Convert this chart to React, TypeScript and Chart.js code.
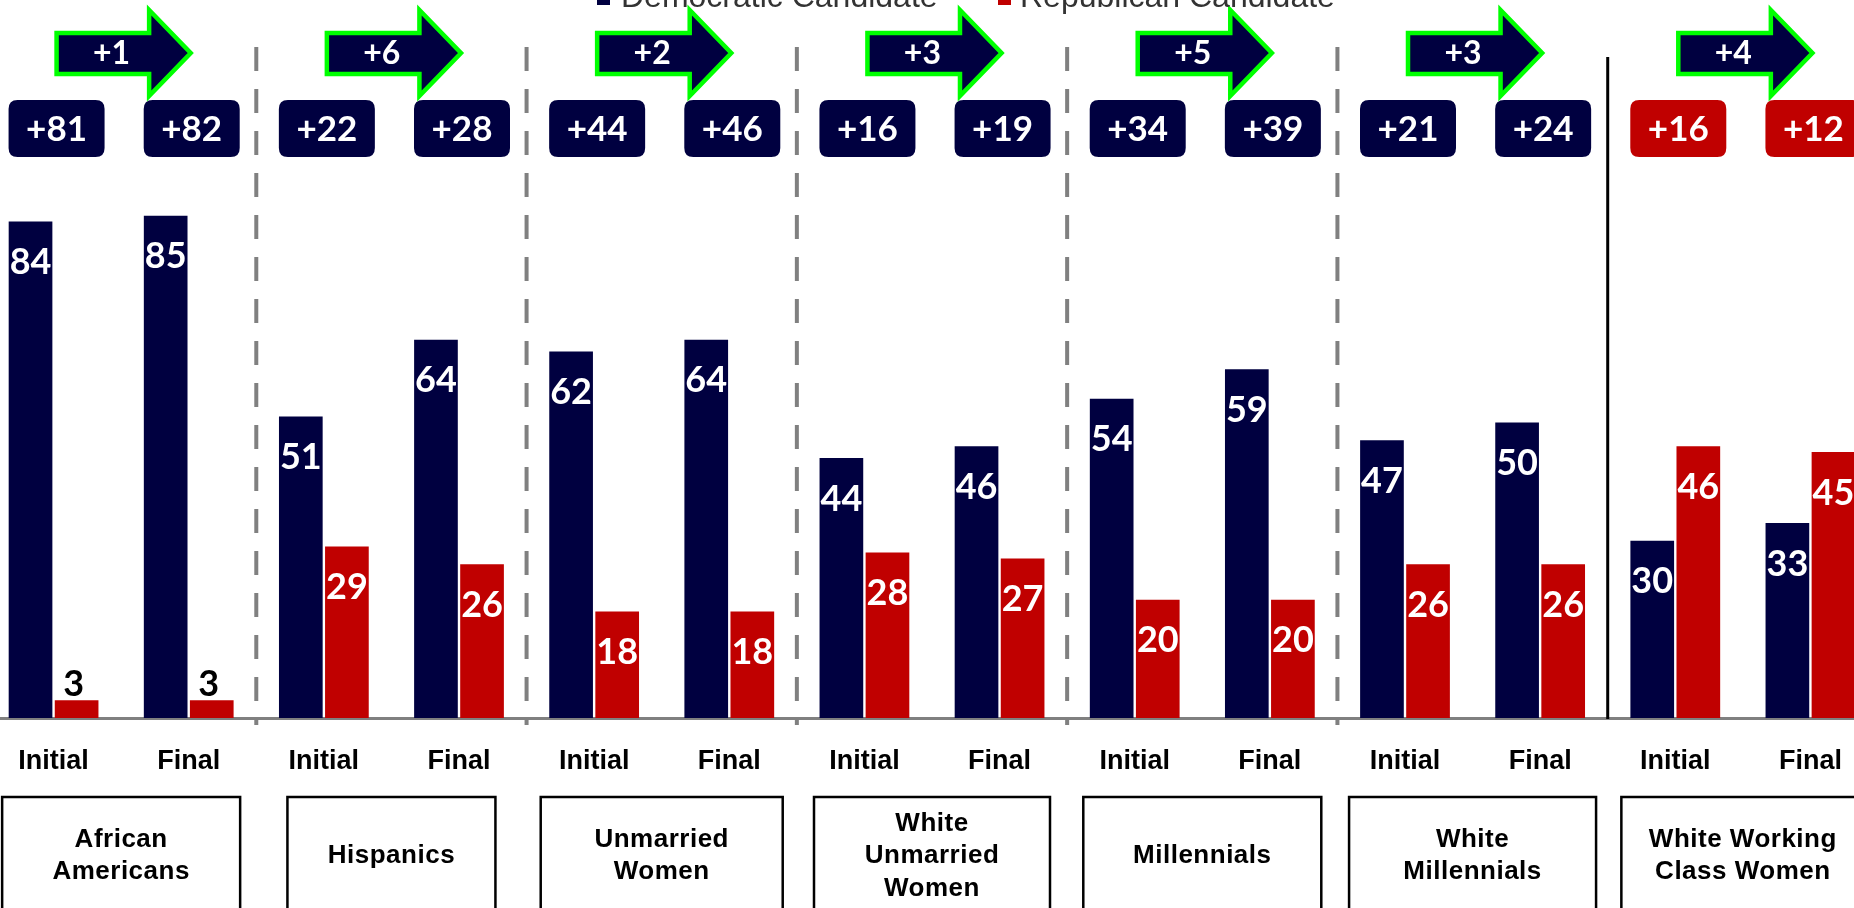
import React, { useEffect, useRef } from 'react';
import { Chart, registerables } from 'chart.js';

Chart.register(...registerables);

// ---------- data ----------
const ROUND_LABELS = ['Initial', 'Final', 'Initial', 'Final', 'Initial', 'Final', 'Initial', 'Final', 'Initial', 'Final', 'Initial', 'Final', 'Initial', 'Final'];
const GROUP_LABELS = [
  ['African', 'Americans'],
  ['Hispanics'],
  ['Unmarried', 'Women'],
  ['White', 'Unmarried', 'Women'],
  ['Millennials'],
  ['White', 'Millennials'],
  ['White Working', 'Class Women'],
];
const DEM_VALUES = [84, 85, 51, 64, 62, 64, 44, 46, 54, 59, 47, 50, 30, 33];
const REP_VALUES = [3, 3, 29, 26, 18, 18, 28, 27, 20, 20, 26, 26, 46, 45];
const MARGIN_LABELS = ['+81', '+82', '+22', '+28', '+44', '+46', '+16', '+19', '+34', '+39', '+21', '+24', '+16', '+12'];
const MARGIN_LEADER = ['D', 'D', 'D', 'D', 'D', 'D', 'D', 'D', 'D', 'D', 'D', 'D', 'R', 'R'];
const SHIFT_LABELS = ['+1', '+6', '+2', '+3', '+5', '+3', '+4'];
const LEGEND_LABELS = ['Democratic Candidate', 'Republican Candidate'];

// ---------- styles ----------
const NAVY = '#000040';
const RED = '#C00000';
const GREEN = '#00FF00';
const GRAY = '#808080';
const CANVAS_W = 1892;
const CANVAS_H = 908;
const SHIFT_X = 14;
const GROUP_BOX_W = [238, 208, 242, 236, 238, 247, 243];
const NUM_FONT = 'Lato';
const TXT_FONT = '"Liberation Sans", Arial, sans-serif';

function roundRect(ctx: CanvasRenderingContext2D, x: number, y: number, w: number, h: number, r: number) {
  ctx.beginPath();
  ctx.moveTo(x + r, y);
  ctx.lineTo(x + w - r, y);
  ctx.quadraticCurveTo(x + w, y, x + w, y + r);
  ctx.lineTo(x + w, y + h - r);
  ctx.quadraticCurveTo(x + w, y + h, x + w - r, y + h);
  ctx.lineTo(x + r, y + h);
  ctx.quadraticCurveTo(x, y + h, x, y + h - r);
  ctx.lineTo(x, y + r);
  ctx.quadraticCurveTo(x, y, x + r, y);
  ctx.closePath();
}

const overlayPlugin = {
  id: 'overlay',
  afterDatasetsDraw(chart: any) {
    const ctx: CanvasRenderingContext2D = chart.ctx;
    ctx.save();
    ctx.font = `bold 36px ${NUM_FONT}`;
    ctx.textAlign = 'center';
    ctx.textBaseline = 'middle';
    chart.data.datasets.forEach((ds: any, di: number) => {
      const meta = chart.getDatasetMeta(di);
      meta.data.forEach((el: any, i: number) => {
        const v = ds.data[i];
        if (v >= 10) {
          ctx.fillStyle = '#ffffff';
          ctx.fillText(String(v), el.x, el.y + 41);
        } else {
          ctx.fillStyle = '#000000';
          ctx.fillText(String(v), el.x - 3, el.y - 16);
        }
      });
    });
    ctx.restore();
  },
  afterDraw(chart: any) {
    const ctx: CanvasRenderingContext2D = chart.ctx;
    const xs = chart.scales.x;
    const P = (i: number) => xs.getPixelForValue(i);
    ctx.save();

    // separators
    const nGroups = GROUP_LABELS.length;
    for (let g = 1; g < nGroups; g++) {
      const sx = (P(2 * g - 1) + P(2 * g)) / 2;
      const solid = g === nGroups - 1;
      ctx.save();
      ctx.strokeStyle = solid ? '#000000' : GRAY;
      ctx.lineWidth = solid ? 3 : 4;
      ctx.setLineDash(solid ? [] : [24, 18]);
      ctx.beginPath();
      ctx.moveTo(sx, solid ? 57 : 47);
      ctx.lineTo(sx, solid ? 719 : 725);
      ctx.stroke();
      ctx.restore();
    }

    // group boxes
    for (let g = 0; g < nGroups; g++) {
      const cx = (P(2 * g) + P(2 * g + 1)) / 2;
      const w = GROUP_BOX_W[g];
      ctx.strokeStyle = '#000000';
      ctx.lineWidth = 2.5;
      ctx.strokeRect(cx - w / 2, 797, w, 160);
      const lines = GROUP_LABELS[g];
      ctx.fillStyle = '#000000';
      ctx.font = `bold 26px ${TXT_FONT}`;
      (ctx as any).letterSpacing = '0.5px';
      ctx.textAlign = 'center';
      ctx.textBaseline = 'middle';
      const lh = 32.5;
      const y0 = 856 - ((lines.length - 1) * lh) / 2;
      lines.forEach((t, k) => ctx.fillText(t, cx, y0 + k * lh));
      (ctx as any).letterSpacing = '0px';
    }

    // margin boxes
    MARGIN_LABELS.forEach((t, i) => {
      const cx = P(i) + 3;
      ctx.fillStyle = MARGIN_LEADER[i] === 'R' ? RED : NAVY;
      roundRect(ctx, cx - 48, 100, 96, 57, 9);
      ctx.fill();
      ctx.fillStyle = '#ffffff';
      ctx.font = `bold 35px ${NUM_FONT}`;
      ctx.textAlign = 'center';
      ctx.textBaseline = 'middle';
      ctx.fillText(t, cx, 130);
    });

    // arrows
    SHIFT_LABELS.forEach((t, g) => {
      const left = P(2 * g) + 3;
      const tip = P(2 * g + 1) + 2;
      const w = tip - left;
      const hb = left + 0.69 * w;
      ctx.beginPath();
      ctx.moveTo(left, 33);
      ctx.lineTo(hb, 33);
      ctx.lineTo(hb, 10);
      ctx.lineTo(tip, 53);
      ctx.lineTo(hb, 96);
      ctx.lineTo(hb, 74);
      ctx.lineTo(left, 74);
      ctx.closePath();
      ctx.fillStyle = NAVY;
      ctx.fill();
      ctx.strokeStyle = GREEN;
      ctx.lineWidth = 4.5;
      ctx.lineJoin = 'miter';
      ctx.stroke();
      ctx.fillStyle = '#ffffff';
      ctx.font = `bold 32px ${NUM_FONT}`;
      ctx.textAlign = 'center';
      ctx.textBaseline = 'middle';
      ctx.fillText(t, left + 0.41 * w, 54);
    });

    // legend (clipped at top)
    const legendColors = [NAVY, RED];
    const sqX = [597, 998];
    const txX = [621, 1020];
    LEGEND_LABELS.forEach((t, k) => {
      ctx.fillStyle = legendColors[k];
      ctx.fillRect(sqX[k] + SHIFT_X, -9, 13, 14);
      ctx.fillStyle = '#333333';
      ctx.font = `32px ${TXT_FONT}`;
      ctx.textAlign = 'left';
      ctx.textBaseline = 'alphabetic';
      ctx.fillText(t, txX[k] + SHIFT_X, 7);
    });

    ctx.restore();
  },
};

export default function App() {
  const ref = useRef<HTMLCanvasElement | null>(null);
  useEffect(() => {
    if (!ref.current) return;
    const chart = new Chart(ref.current, {
      type: 'bar',
      data: {
        labels: ROUND_LABELS,
        datasets: [
          { label: LEGEND_LABELS[0], data: DEM_VALUES, backgroundColor: NAVY, categoryPercentage: 0.682, barPercentage: 0.948 },
          { label: LEGEND_LABELS[1], data: REP_VALUES, backgroundColor: RED, categoryPercentage: 0.682, barPercentage: 0.948 },
        ],
      },
      options: {
        animation: false,
        responsive: false,
        devicePixelRatio: 1,
        layout: { padding: { top: 127, left: 0, right: 0, bottom: 0 } },
        plugins: { legend: { display: false }, tooltip: { enabled: false } },
        scales: {
          x: {
            grid: { display: false, drawTicks: false },
            border: { display: true, color: GRAY, width: 3 },
            ticks: {
              color: '#000000',
              font: { family: TXT_FONT, size: 27, weight: 'bold' },
              padding: 27,
              autoSkip: false,
              maxRotation: 0,
              minRotation: 0,
            },
            afterFit: (s: any) => {
              s.height = 190;
            },
          },
          y: { display: false, min: 0, max: 100 },
        },
      },
      plugins: [overlayPlugin],
    } as any);
    return () => chart.destroy();
  }, []);

  return (
    <div style={{ position: 'fixed', left: 0, top: 0, width: 1854, height: 908, overflow: 'hidden', background: '#ffffff' }}>
      <canvas
        ref={ref}
        width={CANVAS_W}
        height={CANVAS_H}
        style={{ position: 'absolute', left: -SHIFT_X, top: 0, width: CANVAS_W, height: CANVAS_H }}
      />
    </div>
  );
}
